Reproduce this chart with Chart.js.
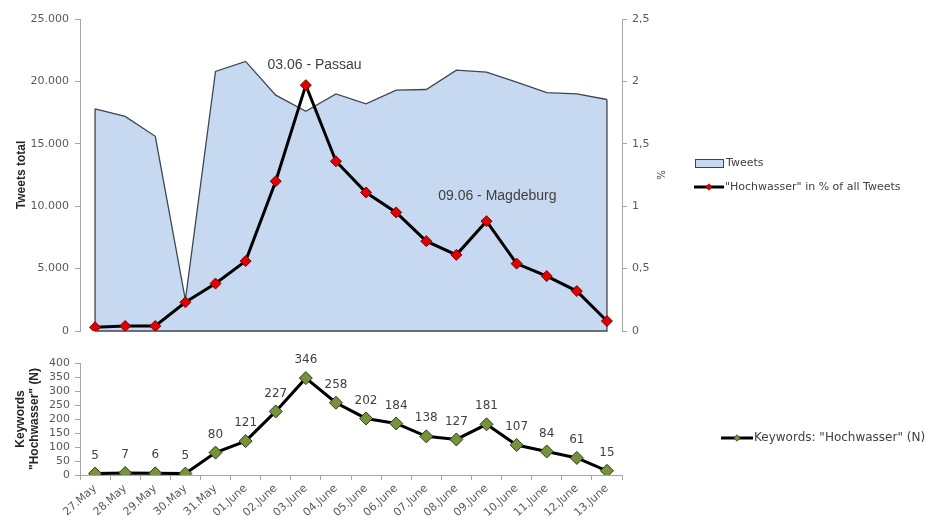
<!DOCTYPE html>
<html>
<head>
<meta charset="utf-8">
<script src="https://cdn.jsdelivr.net/npm/chart.js@4.4.1/dist/chart.umd.min.js"></script>
<style>
  html, body { margin: 0; padding: 0; background: #ffffff; }
  #wrap { position: relative; width: 928px; height: 526px; overflow: hidden; }
  #topChart { position: absolute; left: 0; top: 0; }
  #bottomChart { position: absolute; left: 0; top: 345px; }
</style>
</head>
<body>
<div id="wrap">
  <canvas id="topChart" width="928" height="345"></canvas>
  <canvas id="bottomChart" width="928" height="181"></canvas>
</div>
<script>
// Days of the flood period
const days = ['27.May', '28.May', '29.May', '30.May', '31.May',
  '01.June', '02.June', '03.June', '04.June', '05.June', '06.June', '07.June',
  '08.June', '09.June', '10.June', '11.June', '12.June', '13.June'];

// All tweets per day
const tweetsTotal = [17800, 17200, 15600, 2500, 20800, 21600, 18900, 17600, 19000,
  18200, 19300, 19350, 20900, 20750, 19950, 19100, 19000, 18550];

// Share of tweets containing "Hochwasser", in percent
const hochwasserPct = [0.03, 0.04, 0.04, 0.23, 0.38, 0.56, 1.2, 1.97, 1.36,
  1.11, 0.95, 0.72, 0.61, 0.88, 0.54, 0.44, 0.32, 0.08];

// Number of "Hochwasser" keywords per day
const hochwasserCount = [5, 7, 6, 5, 80, 121, 227, 346, 258, 202, 184, 138,
  127, 181, 107, 84, 61, 15];

// Axis ranges
const tweetAxis = { min: 0, max: 25000, step: 5000 };
const pctAxis = { min: 0, max: 2.5, step: 0.5 };
const countAxis = { min: 0, max: 400, step: 50 };

// Event notes (category position, % value)
const eventNotes = [
  { text: '03.06 - Passau', at: 7.29, pct: 2.13 },
  { text: '09.06 - Magdeburg', at: 13.36, pct: 1.08 }
];

const TICK_FONT = { family: 'DejaVu Sans', size: 11 };
const TICK_COLOR = '#595959';
const AXIS_COLOR = '#a6a6a6';
const TITLE_FONT = { family: 'Liberation Sans', size: 12, weight: 'bold' };
const NOTE_FONT = '14px "Liberation Sans"';
const AREA_FILL = '#c6d9f1';
const AREA_LINE = '#3e4654';

const thousands = v => String(v).replace(/\B(?=(\d{3})+(?!\d))/g, '.');
const decimalComma = v => String(v).replace('.', ',');

// Closes the area outline down to the baseline at both ends
const areaOutline = {
  id: 'areaOutline',
  afterDatasetDraw(chart, args) {
    if (args.index !== 1) return;
    const pts = args.meta.data;
    const base = chart.scales.y.getPixelForValue(0);
    const first = pts[0], last = pts[pts.length - 1];
    const ctx = chart.ctx;
    ctx.save();
    ctx.strokeStyle = AREA_LINE;
    ctx.lineWidth = 1.3;
    ctx.beginPath();
    ctx.moveTo(first.x, first.y);
    ctx.lineTo(first.x, base);
    ctx.lineTo(last.x, base);
    ctx.lineTo(last.x, last.y);
    ctx.stroke();
    ctx.restore();
  }
};

// Event notes written into the plot
const notes = {
  id: 'notes',
  afterDatasetsDraw(chart) {
    const ctx = chart.ctx;
    ctx.save();
    ctx.font = NOTE_FONT;
    ctx.fillStyle = '#404040';
    ctx.textAlign = 'center';
    ctx.textBaseline = 'middle';
    eventNotes.forEach(n => {
      ctx.fillText(n.text, chart.scales.x.getPixelForValue(n.at), chart.scales.y1.getPixelForValue(n.pct));
    });
    ctx.restore();
  }
};

function lineMarkerSample(ctx, x, y, w, fill, stroke) {
  ctx.save();
  ctx.strokeStyle = '#000';
  ctx.lineWidth = 3;
  ctx.beginPath();
  ctx.moveTo(x, y);
  ctx.lineTo(x + w, y);
  ctx.stroke();
  const cx = x + w / 2, r = 3.2;
  ctx.fillStyle = fill;
  ctx.strokeStyle = stroke;
  ctx.lineWidth = 0.8;
  ctx.beginPath();
  ctx.moveTo(cx, y - r); ctx.lineTo(cx + r, y); ctx.lineTo(cx, y + r); ctx.lineTo(cx - r, y);
  ctx.closePath();
  ctx.fill(); ctx.stroke();
  ctx.restore();
}

// Legend beside the plot
const sideLegend = {
  id: 'sideLegend',
  afterDraw(chart, args, opts) {
    const ctx = chart.ctx;
    ctx.save();
    ctx.font = opts.font;
    ctx.textBaseline = 'middle';
    opts.items.forEach(it => {
      const ds = chart.data.datasets[it.dataset];
      if (it.kind === 'area') {
        ctx.fillStyle = ds.backgroundColor;
        ctx.fillRect(it.x, it.y - 4, 28, 8);
        ctx.strokeStyle = AREA_LINE;
        ctx.lineWidth = 1;
        ctx.strokeRect(it.x + 0.5, it.y - 3.5, 28, 8);
      } else {
        lineMarkerSample(ctx, it.x, it.y, it.w, ds.pointBackgroundColor, ds.pointBorderColor);
      }
      ctx.fillStyle = '#404040';
      ctx.textAlign = 'left';
      ctx.fillText(ds.label, it.x + (it.w || 30) + 1, it.y);
    });
    ctx.restore();
  }
};

// Value written above every point
const pointValues = {
  id: 'pointValues',
  afterDatasetsDraw(chart) {
    const ctx = chart.ctx;
    const meta = chart.getDatasetMeta(0);
    const values = chart.data.datasets[0].data;
    ctx.save();
    ctx.font = '12px "DejaVu Sans"';
    ctx.fillStyle = '#404040';
    ctx.textAlign = 'center';
    ctx.textBaseline = 'middle';
    meta.data.forEach((p, i) => ctx.fillText(String(values[i]), p.x, p.y - 18));
    ctx.restore();
  }
};

new Chart(document.getElementById('topChart'), {
  type: 'line',
  data: {
    labels: days,
    datasets: [
      {
        label: '"Hochwasser" in % of all Tweets',
        data: hochwasserPct,
        yAxisID: 'y1',
        order: 0,
        borderColor: '#000000',
        borderWidth: 3,
        pointStyle: 'rectRot',
        pointRadius: 5.5,
        pointBackgroundColor: '#e00000',
        pointBorderColor: '#7a0000',
        pointBorderWidth: 1,
        tension: 0,
        fill: false
      },
      {
        label: 'Tweets',
        data: tweetsTotal,
        yAxisID: 'y',
        order: 1,
        borderColor: AREA_LINE,
        borderWidth: 1.3,
        backgroundColor: AREA_FILL,
        pointRadius: 0,
        tension: 0,
        fill: 'origin'
      }
    ]
  },
  options: {
    responsive: false,
    animation: false,
    events: [],
    layout: { padding: { left: 0, top: 19, right: 262, bottom: 14 } },
    plugins: {
      legend: { display: false },
      tooltip: { enabled: false },
      sideLegend: {
        font: '11px "DejaVu Sans"',
        items: [
          { dataset: 1, kind: 'area', x: 695, y: 163, w: 30 },
          { dataset: 0, kind: 'line', x: 694, y: 187, w: 30 }
        ]
      }
    },
    scales: {
      x: { type: 'category', offset: true, display: false },
      y: {
        position: 'left',
        min: tweetAxis.min, max: tweetAxis.max,
        afterFit: s => { s.width = 80; },
        ticks: { stepSize: tweetAxis.step, font: TICK_FONT, color: TICK_COLOR, padding: 6, callback: thousands },
        grid: { drawOnChartArea: false, tickLength: 5, color: AXIS_COLOR },
        border: { color: AXIS_COLOR, width: 1 },
        title: { display: true, text: 'Tweets total', font: TITLE_FONT, color: '#262626', padding: { top: 14, bottom: 0 } }
      },
      y1: {
        position: 'right',
        min: pctAxis.min, max: pctAxis.max,
        afterFit: s => { s.width = 44; },
        ticks: { stepSize: pctAxis.step, font: TICK_FONT, color: TICK_COLOR, padding: 5, callback: decimalComma },
        grid: { drawOnChartArea: false, tickLength: 5, color: AXIS_COLOR },
        border: { color: AXIS_COLOR, width: 1 },
        title: { display: true, text: '%', font: { family: 'DejaVu Sans', size: 10 }, color: '#404040', padding: { top: 0, bottom: 0 } }
      }
    }
  },
  plugins: [areaOutline, notes, sideLegend]
});

new Chart(document.getElementById('bottomChart'), {
  type: 'line',
  data: {
    labels: days,
    datasets: [
      {
        label: 'Keywords: "Hochwasser" (N)',
        data: hochwasserCount,
        borderColor: '#000000',
        borderWidth: 3,
        pointStyle: 'rectRot',
        pointRadius: 6.5,
        pointBackgroundColor: '#76923c',
        pointBorderColor: '#2f3a16',
        pointBorderWidth: 1,
        tension: 0,
        fill: false
      }
    ]
  },
  options: {
    responsive: false,
    animation: false,
    events: [],
    layout: { padding: { left: 0, top: 18, right: 306, bottom: 0 } },
    plugins: {
      legend: { display: false },
      tooltip: { enabled: false },
      sideLegend: {
        font: '12px "DejaVu Sans"',
        items: [{ dataset: 0, kind: 'line', x: 721, y: 93, w: 32 }]
      }
    },
    scales: {
      x: {
        type: 'category', offset: true,
        afterFit: s => { s.height = 51; },
        ticks: { font: TICK_FONT, color: TICK_COLOR, minRotation: 42, maxRotation: 42, autoSkip: false, padding: 2 },
        grid: { offset: true, drawOnChartArea: false, tickLength: 5, color: AXIS_COLOR },
        border: { color: AXIS_COLOR, width: 1 }
      },
      y: {
        position: 'left',
        min: countAxis.min, max: countAxis.max,
        afterFit: s => { s.width = 80; },
        ticks: { stepSize: countAxis.step, autoSkip: false, font: { family: 'DejaVu Sans', size: 11 }, color: TICK_COLOR, padding: 5 },
        grid: { drawOnChartArea: false, tickLength: 5, color: AXIS_COLOR },
        border: { color: AXIS_COLOR, width: 1 },
        title: { display: true, text: ['Keywords', '"Hochwasser" (N)'], font: TITLE_FONT, color: '#262626', padding: { top: 13, bottom: 0 } }
      }
    }
  },
  plugins: [pointValues, sideLegend]
});
</script>
</body>
</html>
